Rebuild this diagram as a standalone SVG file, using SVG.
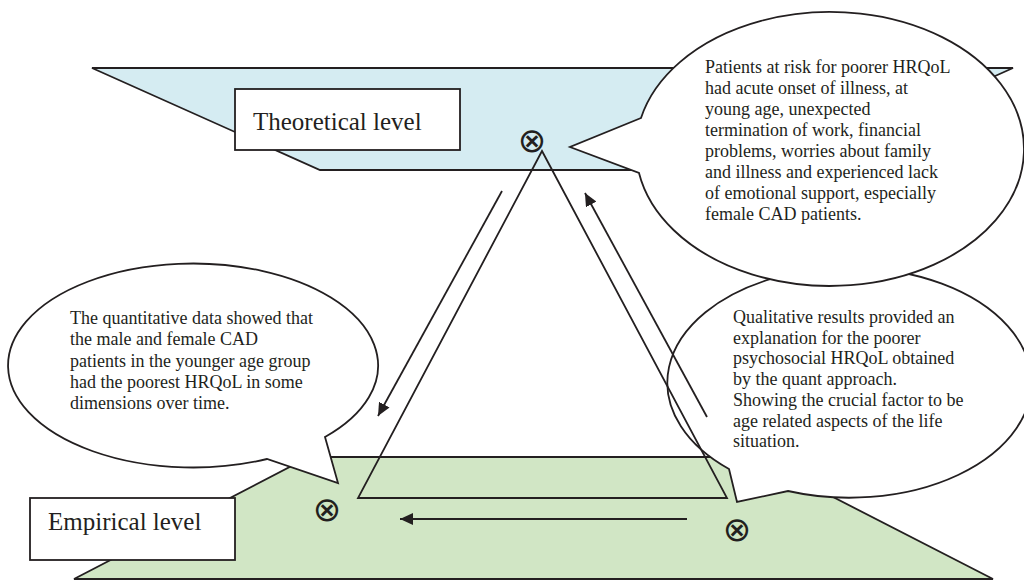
<svg xmlns="http://www.w3.org/2000/svg" width="1024" height="581" viewBox="0 0 1024 581">
  <style>
    .plane { stroke: #231f20; stroke-width: 1.8; stroke-linejoin: miter; }
    .blue { fill: #d5ecf2; }
    .green { fill: #d1e6c5; }
    .bubble { fill: #ffffff; stroke: #231f20; stroke-width: 1.8; stroke-linejoin: miter; }
    .box { fill: #ffffff; stroke: #231f20; stroke-width: 1.8; }
    .label { font-family: "Liberation Serif", "Times New Roman", serif; font-size: 25px; fill: #231f20; }
    .body { font-family: "Liberation Serif", "Times New Roman", serif; font-size: 18px; fill: #231f20; }
    .line { fill: none; stroke: #231f20; stroke-width: 1.8; }
    .sym { font-family: "DejaVu Sans", sans-serif; font-size: 34px; fill: #231f20; text-anchor: middle; dominant-baseline: central; }
  </style>
  <defs>
    <marker id="arrow" markerUnits="userSpaceOnUse" markerWidth="13" markerHeight="12" refX="13" refY="6" orient="auto">
      <path d="M0,0 L13,6 L0,12 z" fill="#231f20"/>
    </marker>
  </defs>

  <g id="theoretical-plane">
    <polygon class="plane blue" points="92,68 1013,68 785,170 320,170"/>
  </g>
  <g id="empirical-plane">
    <polygon class="plane green" points="74,579 309,457 755,457 993,579"/>
  </g>

  <g id="bubble-qualitative">
    <path class="bubble" d="M729,469 L737,502 L788,491 A182 115 0 1 0 729,469 Z"/>
    <text class="body" x="733" y="323">Qualitative results provided an</text>
    <text class="body" x="733" y="344">explanation for the poorer</text>
    <text class="body" x="733" y="364">psychosocial HRQoL obtained</text>
    <text class="body" x="733" y="385">by the quant approach.</text>
    <text class="body" x="733" y="406">Showing the crucial factor to be</text>
    <text class="body" x="733" y="427">age related aspects of the life</text>
    <text class="body" x="733" y="447">situation.</text>
  </g>

  <g id="bubble-theory">
    <path class="bubble" d="M641,118 L570,147 L639,173 A194 137 0 1 0 641,118 Z"/>
    <text class="body" x="705" y="73">Patients at risk for poorer HRQoL</text>
    <text class="body" x="705" y="94">had acute onset of illness, at</text>
    <text class="body" x="705" y="115">young age, unexpected</text>
    <text class="body" x="705" y="136">termination of work, financial</text>
    <text class="body" x="705" y="157">problems, worries about family</text>
    <text class="body" x="705" y="178">and illness and experienced lack</text>
    <text class="body" x="705" y="199">of emotional support, especially</text>
    <text class="body" x="705" y="220">female CAD patients.</text>
  </g>

  <g id="bubble-quantitative">
    <path class="bubble" d="M325,437 L338,483 L267,459 A185 102 0 1 1 325,437 Z"/>
    <text class="body" x="70" y="324">The quantitative data showed that</text>
    <text class="body" x="70" y="345">the male and female CAD</text>
    <text class="body" x="70" y="367">patients in the younger age group</text>
    <text class="body" x="70" y="388">had the poorest HRQoL in some</text>
    <text class="body" x="70" y="409">dimensions over time.</text>
  </g>

  <g id="theoretical-label">
    <rect class="box" x="235" y="89" width="225" height="61"/>
    <text class="label" x="253" y="130">Theoretical level</text>
  </g>
  <g id="empirical-label">
    <rect class="box" x="30" y="498" width="205" height="62"/>
    <text class="label" x="48" y="530">Empirical level</text>
  </g>

  <g id="triangle">
    <polygon class="line" points="542,151 358,498 727,498"/>
  </g>

  <g id="connectors">
    <line class="line" x1="502" y1="191" x2="378" y2="416" marker-end="url(#arrow)"/>
    <line class="line" x1="707" y1="417" x2="585" y2="193" marker-end="url(#arrow)"/>
    <line class="line" x1="687" y1="519" x2="400" y2="519" marker-end="url(#arrow)"/>
  </g>

  <g id="point-theory">
    <text class="sym" x="532" y="140">⊗</text>
  </g>
  <g id="point-quant">
    <text class="sym" x="327" y="509">⊗</text>
  </g>
  <g id="point-qual">
    <text class="sym" x="737" y="529">⊗</text>
  </g>
</svg>
